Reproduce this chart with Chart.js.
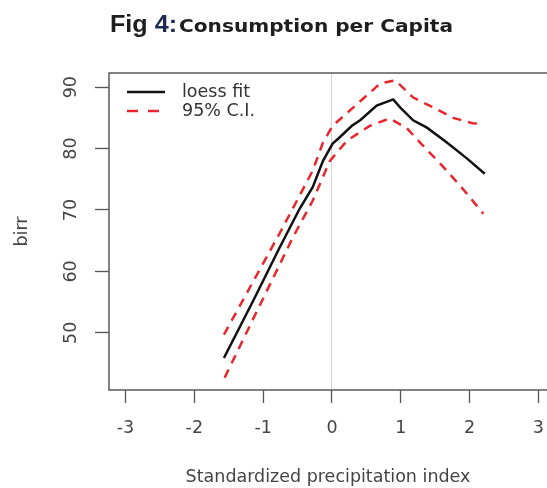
<!DOCTYPE html>
<html>
<head>
<meta charset="utf-8">
<script src="https://cdn.jsdelivr.net/npm/chart.js@4.4.1/dist/chart.umd.min.js"></script>
<style>
  html, body { margin: 0; padding: 0; background: #fff; }
  #wrap { width: 547px; height: 488px; }
</style>
</head>
<body>
<div id="wrap"><canvas id="chart" width="547" height="488"></canvas></div>
<script>
// Fig 4: consumption per capita vs standardized precipitation index (loess + 95% CI)

const fitX = [-1.57, -1.15, -0.76, -0.47, -0.28, -0.13, 0.01, 0.09, 0.29, 0.41, 0.65, 0.89, 0.99, 1.18, 1.38, 1.67, 1.96, 2.22];
const fitY = [45.9, 55.1, 63.9, 70.2, 73.7, 78.0, 80.8, 81.6, 83.7, 84.6, 87.0, 88.0, 86.7, 84.6, 83.4, 81.0, 78.4, 75.9];

const upperX = [-1.57, -0.76, -0.51, -0.28, -0.13, 0.01, 0.26, 0.70, 0.92, 1.18, 1.47, 1.76, 2.05, 2.20];
const upperY = [49.7, 66.2, 71.5, 76.4, 81.0, 83.7, 86.2, 90.6, 91.1, 88.3, 86.7, 85.0, 84.1, 84.0];

const lowerX = [-1.56, -0.57, -0.28, -0.03, 0.22, 0.55, 0.84, 1.09, 1.32, 1.57, 1.86, 2.20];
const lowerY = [42.7, 65.5, 71.5, 78.0, 81.3, 83.7, 84.9, 83.3, 80.5, 77.6, 74.0, 69.4];

const xTicks = [-3, -2, -1, 0, 1, 2, 3];
const yTicks = [50, 60, 70, 80, 90];
const legendLabels = ['loess fit', '95% C.I.'];

const red = '#e8262c';
const axisFont = { family: 'DejaVu Sans', size: 17.5 };
const textGray = '#444';

const pts = (xs, ys) => xs.map((x, i) => ({ x, y: ys[i] }));

function stretchText(ctx, text, x, y, width) {
  const w = ctx.measureText(text).width;
  ctx.save();
  ctx.translate(x, y);
  ctx.scale(width / w, 1);
  ctx.fillText(text, 0, 0);
  ctx.restore();
}

const decor = {
  id: 'decor',
  afterDatasetsDraw(chart) {
    const { ctx, chartArea: a, scales: { y } } = chart;
    ctx.save();

    // R style box (right side falls off the canvas)
    ctx.strokeStyle = '#595959';
    ctx.lineWidth = 1.5;
    ctx.beginPath();
    ctx.moveTo(a.right + 5, a.top);
    ctx.lineTo(a.left, a.top);
    ctx.lineTo(a.left, a.bottom);
    ctx.lineTo(a.right + 5, a.bottom);
    ctx.stroke();

    // rotated y tick labels
    ctx.fillStyle = textGray;
    ctx.font = `${axisFont.size}px ${axisFont.family}`;
    ctx.textAlign = 'center';
    ctx.textBaseline = 'middle';
    y.ticks.forEach(t => {
      if (!yTicks.includes(t.value)) return;
      ctx.save();
      ctx.translate(71, y.getPixelForValue(t.value));
      ctx.rotate(-Math.PI / 2);
      ctx.fillText(String(t.value), 0, 0);
      ctx.restore();
    });

    // legend in top-left corner
    const ds = chart.data.datasets;
    const rows = [
      { ds: ds[0], label: legendLabels[0], y: 92 },
      { ds: ds[1], label: legendLabels[1], y: 111 }
    ];
    rows.forEach(r => {
      ctx.strokeStyle = r.ds.borderColor;
      ctx.lineWidth = r.ds.borderWidth;
      ctx.setLineDash(r.ds.borderDash ? [11, 10] : []);
      ctx.beginPath();
      ctx.moveTo(127, r.y);
      ctx.lineTo(165, r.y);
      ctx.stroke();
      ctx.setLineDash([]);
      ctx.fillStyle = '#333';
      ctx.textAlign = 'left';
      ctx.fillText(r.label, 182, r.y);
    });
    ctx.restore();
  },
  afterDraw(chart) {
    const ctx = chart.ctx;
    ctx.save();
    ctx.textAlign = 'left';
    ctx.textBaseline = 'alphabetic';
    // "Fig 4:" part
    ctx.font = 'bold 23px "Liberation Sans"';
    const full = ctx.measureText('Fig 4:').width;
    const s = 67 / full;
    ctx.fillStyle = '#1e1e1e';
    stretchText(ctx, 'Fig ', 110, 32, ctx.measureText('Fig ').width * s);
    ctx.fillStyle = '#1d2b52';
    stretchText(ctx, '4:', 110 + ctx.measureText('Fig ').width * s, 32, ctx.measureText('4:').width * s);
    // rest of title
    ctx.font = 'bold 18px "DejaVu Sans"';
    ctx.fillStyle = '#1e1e1e';
    stretchText(ctx, 'Consumption per Capita', 179, 32, 274);
    ctx.restore();
  }
};

new Chart(document.getElementById('chart'), {
  type: 'line',
  data: {
    datasets: [
      { label: legendLabels[0], data: pts(fitX, fitY), borderColor: '#111', borderWidth: 2.5, pointRadius: 0, tension: 0 },
      { label: legendLabels[1], data: pts(upperX, upperY), borderColor: red, borderWidth: 2.5, borderDash: [9, 7], pointRadius: 0, tension: 0 },
      { label: 'lower', data: pts(lowerX, lowerY), borderColor: red, borderWidth: 2.5, borderDash: [9, 7], pointRadius: 0, tension: 0 }
    ]
  },
  options: {
    responsive: false,
    animation: false,
    layout: { padding: { top: 73, left: 0, right: 0, bottom: 0 } },
    plugins: { legend: { display: false }, tooltip: { enabled: false } },
    scales: {
      x: {
        type: 'linear',
        min: -3.24,
        max: 3.125,
        afterBuildTicks: s => { s.ticks = xTicks.map(v => ({ value: v })); },
        afterFit: s => { s.height = 98; s.paddingLeft = 0; s.paddingRight = 0; },
        border: { display: false },
        grid: {
          drawTicks: true,
          tickLength: 13,
          tickColor: '#555',
          tickWidth: 1.3,
          lineWidth: 1,
          color: c => (c.tick && c.tick.value === 0 ? '#d4d4d4' : 'rgba(0,0,0,0)')
        },
        ticks: { font: axisFont, color: textGray, padding: 15, maxRotation: 0, includeBounds: false },
        title: { display: true, text: 'Standardized precipitation index', font: axisFont, color: textGray, padding: { top: 0, bottom: 0 } }
      },
      y: {
        min: 40.7,
        max: 92.3,
        afterBuildTicks: s => { s.ticks = yTicks.map(v => ({ value: v })); },
        afterFit: s => { s.width = 109; s.paddingTop = 0; s.paddingBottom = 0; },
        border: { display: false },
        grid: { drawOnChartArea: false, drawTicks: true, tickLength: 14, tickColor: '#555', tickWidth: 1.3 },
        ticks: { display: false },
        title: { display: true, text: 'birr', font: axisFont, color: textGray, padding: { top: 12, bottom: 0 } }
      }
    }
  },
  plugins: [decor]
});
</script>
</body>
</html>
